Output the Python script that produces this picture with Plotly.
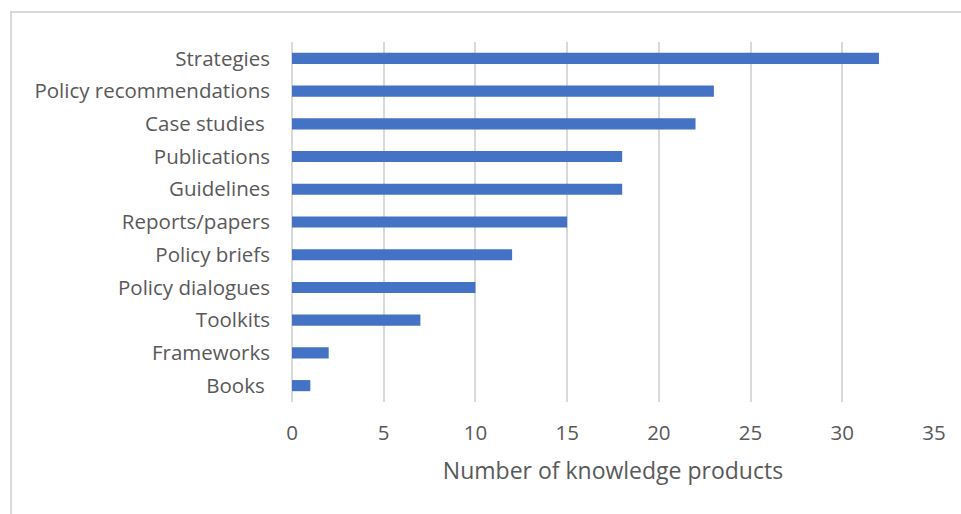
import plotly.graph_objects as go

categories = ["Strategies", "Policy recommendations", "Case studies\u00a0", "Publications",
              "Guidelines", "Reports/papers", "Policy briefs", "Policy dialogues",
              "Toolkits", "Frameworks", "Books\u00a0"]
values = [32, 23, 22, 18, 18, 15, 12, 10, 7, 2, 1]
x_ticks = [0, 5, 10, 15, 20, 25, 30, 35]
x_title = "Number of knowledge products"

fig = go.Figure(go.Bar(
    y=categories, x=values, orientation="h",
    marker=dict(color="#4472C4", line=dict(width=0)),
))

font = dict(family="Open Sans", size=20.5, color="#595959")
title_font = dict(family="Open Sans", size=23, color="#595959")
fig.update_layout(
    width=961, height=514,
    margin=dict(l=292, r=27, t=42, b=112),
    paper_bgcolor="white", plot_bgcolor="white",
    bargap=0.66, showlegend=False,
    font=font,
    xaxis=dict(range=[0, 35], tickvals=x_ticks, showgrid=True, gridcolor="#d9d9d9",
               gridwidth=2, zeroline=True, zerolinecolor="#d9d9d9", zerolinewidth=2,
               showline=False, ticks="", ticklabelstandoff=16,
               title=dict(text=x_title, standoff=18, font=title_font), tickfont=font),
    yaxis=dict(autorange="reversed", showgrid=False, zeroline=False, showline=False,
               ticks="", ticklabelstandoff=21, tickfont=font),
    shapes=[dict(type="rect", xref="paper", yref="paper",
                 x0=(11 - 292) / 642, x1=(970 - 292) / 642,
                 y0=(402 - 530) / 360, y1=(402 - 12) / 360,
                 line=dict(color="#d9d9d9", width=2), fillcolor="rgba(0,0,0,0)", layer="below")],
)

fig.write_html("out.html")
